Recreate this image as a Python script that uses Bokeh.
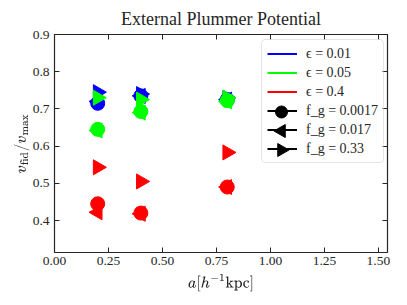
import math
from bokeh.plotting import figure
from bokeh.models import Range1d, LinearAxis, Legend, LegendItem, FixedTicker
from bokeh.embed import file_html
from bokeh.resources import INLINE

# ---- data ----
a_vals = [0.2, 0.4, 0.8]
eps_labels = ["ϵ = 0.01", "ϵ = 0.05", "ϵ = 0.4"]
eps_colors = ["#0000ff", "#00ff00", "#ff0000"]
fg_labels = ["f_g = 0.0017", "f_g = 0.017", "f_g = 0.33"]

# v_fid / v_max per epsilon and gas fraction
eps001_fg00017 = [0.715, 0.735, 0.725]
eps001_fg0017 = [0.720, 0.735, 0.725]
eps001_fg033 = [0.745, 0.740, 0.730]
eps005_fg00017 = [0.645, 0.693, 0.722]
eps005_fg0017 = [0.642, 0.690, 0.720]
eps005_fg033 = [0.730, 0.725, 0.730]
eps04_fg00017 = [0.445, 0.420, 0.490]
eps04_fg0017 = [0.422, 0.418, 0.490]
eps04_fg033 = [0.543, 0.505, 0.583]

x_ticks = [0.0, 0.25, 0.5, 0.75, 1.0, 1.25, 1.5]
x_tick_labels = ["0.00", "0.25", "0.50", "0.75", "1.00", "1.25", "1.50"]
y_ticks = [0.4, 0.5, 0.6, 0.7, 0.8, 0.9]
y_tick_labels = ["0.4", "0.5", "0.6", "0.7", "0.8", "0.9"]

series = [
    [eps001_fg00017, eps001_fg0017, eps001_fg033],
    [eps005_fg00017, eps005_fg0017, eps005_fg033],
    [eps04_fg00017, eps04_fg0017, eps04_fg033],
]
markers = [("circle", 0.0, 14), ("triangle", math.pi / 2, 15), ("triangle", -math.pi / 2, 15)]

FONT = "Liberation Serif"
INK = "#262626"
FW, FH = 333, 218

p = figure(frame_width=FW, frame_height=FH, output_backend="svg", toolbar_location=None,
           x_range=Range1d(0, 1.542), y_range=Range1d(0.314, 0.9),
           min_border_left=54, min_border_right=3, min_border_top=34, min_border_bottom=4)
p.grid.visible = False
p.outline_line_color = INK
p.outline_line_width = 1.2

p.title.text = "External Plummer Potential"
p.title.align = "center"
p.title.text_font = FONT
p.title.text_font_style = "normal"
p.title.text_font_size = "18px"
p.title.text_color = INK
p.title.standoff = 11

for i, col in enumerate(eps_colors):
    for j, (mk, ang, sz) in enumerate(markers):
        p.scatter(a_vals, series[i][j], marker=mk, angle=ang, size=sz,
                  fill_color=col, line_color=col)

top = LinearAxis()
right = LinearAxis()
p.add_layout(top, "above")
p.add_layout(right, "right")

def style_axis(ax, ticks, labels):
    ax.ticker = FixedTicker(ticks=ticks)
    ax.major_tick_in = 5
    ax.major_tick_out = 0
    ax.minor_tick_in = 0
    ax.minor_tick_out = 0
    ax.axis_line_color = None
    ax.major_tick_line_color = INK
    ax.major_label_text_font = FONT
    ax.major_label_text_font_size = "13.5px"
    ax.major_label_text_color = INK
    ax.axis_label_text_font = FONT
    ax.axis_label_text_font_style = "normal"
    ax.axis_label_text_font_size = "14px"
    ax.axis_label_text_color = INK
    ax.major_label_overrides = {t: l for t, l in zip(ticks, labels)}

xb = p.below[0]
yl = p.left[0]
style_axis(xb, x_ticks, x_tick_labels)
style_axis(yl, y_ticks, y_tick_labels)
style_axis(top, x_ticks, ["" for _ in x_ticks])
style_axis(right, y_ticks, ["" for _ in y_ticks])
top.major_label_standoff = 0
right.major_label_standoff = 0
xb.major_label_standoff = 4
yl.major_label_standoff = 5
xb.axis_label = r"$$a[h^{-1}\mathrm{kpc}]$$"
xb.axis_label_standoff = 6
yl.axis_label = r"$$v_{\mathrm{fid}}/v_{\mathrm{max}}$$"
yl.axis_label_standoff = 0

# legend (lines + text); rotated markers are overlaid on the legend afterwards
PAD, GH, SP, GW = 5, 17, 2, 30
LX, LTOP = 207, 7          # legend box left / top offset inside frame (px)
n_items = 6
LH = 2 * PAD + n_items * GH + (n_items - 1) * SP

nan = float("nan")
items = []
for lab, col in zip(eps_labels, eps_colors):
    r = p.line(x=[nan, nan], y=[nan, nan], line_color=col, line_width=2)
    items.append(LegendItem(label=lab, renderers=[r]))
for lab in fg_labels:
    rl = p.line(x=[nan, nan], y=[nan, nan], line_color="black", line_width=2)
    items.append(LegendItem(label=lab, renderers=[rl]))

legend = Legend(items=items, location=(LX, FH - LTOP - LH))
legend.level = "underlay"
legend.label_text_font = FONT
legend.label_text_font_size = "14px"
legend.label_text_color = INK
legend.glyph_width = GW
legend.glyph_height = GH
legend.label_height = GH
legend.label_standoff = 9
legend.spacing = SP
legend.padding = PAD
legend.margin = 0
legend.border_line_color = "#cccccc"
legend.border_radius = 4
legend.background_fill_color = None
legend.background_fill_alpha = 0
p.add_layout(legend)

# legend marker overlay in frame pixel coordinates
p.extra_x_ranges = {"px": Range1d(0, FW)}
p.extra_y_ranges = {"py": Range1d(0, FH)}
gx = LX + PAD + GW / 2
for k, (mk, ang, sz) in enumerate(markers):
    row = 3 + k
    gy = FH - LTOP - PAD - row * (GH + SP) - GH / 2
    p.scatter([gx], [gy], marker=mk, angle=ang, size=sz - 2,
              fill_color="black", line_color="black",
              x_range_name="px", y_range_name="py", level="overlay")

open("out.html", "w").write(file_html(p, INLINE))
